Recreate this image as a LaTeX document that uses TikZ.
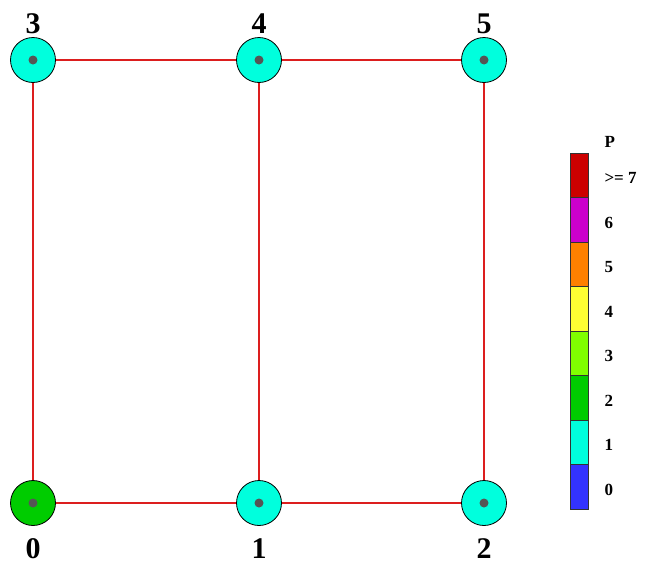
\documentclass[tikz,border=0pt]{standalone}
\usepackage{fontspec}
\setmainfont{Liberation Serif}
\definecolor{cR}{RGB}{204,0,0}
\definecolor{cM}{RGB}{204,0,204}
\definecolor{cO}{RGB}{255,128,0}
\definecolor{cY}{RGB}{255,255,51}
\definecolor{cLG}{RGB}{128,255,0}
\definecolor{cG}{RGB}{0,204,0}
\definecolor{cC}{RGB}{0,255,221}
\definecolor{cB}{RGB}{51,51,255}
\definecolor{dotgray}{RGB}{85,85,85}
\definecolor{edgered}{RGB}{220,30,30}
\tikzset{
  vert/.style={circle,draw=black,line width=0.8pt,minimum size=45pt,inner sep=0pt},
  hub/.style={circle,fill=dotgray,minimum size=9pt,inner sep=0pt},
  edge/.style={draw=edgered,line width=1.1pt},
  bignum/.style={font=\fontsize{30}{30}\selectfont\bfseries},
  legtxt/.style={font=\fontsize{17}{17}\selectfont\bfseries,anchor=west},
  legbox/.style={draw=black!80,line width=0.6pt}
}
\begin{document}
\begin{tikzpicture}[x=1pt,y=-1pt]
\useasboundingbox (0,0) rectangle (645,565);
% edges
\coordinate (p0) at (33,503);
\coordinate (p1) at (259,503);
\coordinate (p2) at (484,503);
\coordinate (p3) at (33,60);
\coordinate (p4) at (259,60);
\coordinate (p5) at (484,60);
\draw[edge] (p0) -- (p1) -- (p2);
\draw[edge] (p3) -- (p4) -- (p5);
\draw[edge] (p0) -- (p3);
\draw[edge] (p1) -- (p4);
\draw[edge] (p2) -- (p5);
% vertices
\node[vert,fill=cG] (v0) at (p0) {};
\node[vert,fill=cC] (v1) at (p1) {};
\node[vert,fill=cC] (v2) at (p2) {};
\node[vert,fill=cC] (v3) at (p3) {};
\node[vert,fill=cC] (v4) at (p4) {};
\node[vert,fill=cC] (v5) at (p5) {};
\foreach \i in {0,...,5} { \node[hub] (h\i) at (p\i) {}; }
% labels
\node[bignum] (l0) at (33,549) {0};
\node[bignum] (l1) at (259,549) {1};
\node[bignum] (l2) at (484,549) {2};
\node[bignum] (l3) at (33,24) {3};
\node[bignum] (l4) at (259,24) {4};
\node[bignum] (l5) at (484,24) {5};
% legend
\foreach \c/\k [count=\n from 0] in {cR/>= 7,cM/6,cO/5,cY/4,cLG/3,cG/2,cC/1,cB/0} {
  \fill[\c] (570,{153+44.5*\n}) rectangle (588,{153+44.5*(\n+1)});
  \draw[legbox] (570,{153+44.5*\n}) rectangle (588,{153+44.5*(\n+1)});
  \node[legtxt] (k\n) at (601,{178+44.5*\n}) {\k};
}
\node[legtxt] (kp) at (601,142) {P};
\end{tikzpicture}
\end{document}
